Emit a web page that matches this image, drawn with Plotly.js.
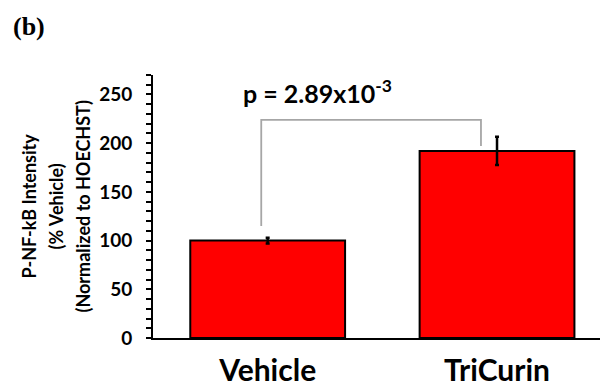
<!DOCTYPE html>
<html>
<head>
<meta charset="utf-8">
<script src="https://cdn.plot.ly/plotly-3.0.1.min.js"></script>
<style>html,body{margin:0;padding:0;background:#fff;}#chart{width:600px;height:389px;}</style>
</head>
<body>
<div id="chart"></div>
<script>
const categories = ["Vehicle", "TriCurin"];
const values = [100, 192];
const errors = [3, 14.5];
const pText = "p = 2.89x10<sup>-3</sup>";
const bracketTop = 224;
const yTickVals = [0, 50, 100, 150, 200, 250];
const yTitleLines = ["P-NF-kB Intensity", "(% Vehicle)", "(Normalized to HOECHST)"];

const FONT = "Lato, 'Open Sans', sans-serif";

const trace = {
  type: "bar",
  x: [0, 1],
  y: values,
  width: 0.675,
  marker: {color: "#ff0000", line: {color: "#000000", width: 2}},
  error_y: {type: "data", array: errors, visible: true, color: "#000000", thickness: 2.5, width: 2},
  hoverinfo: "skip"
};

const shapes = [
  {type: "path", xref: "x", yref: "y",
   path: `M ${0 - 0.028} ${values[0] + errors[0] + 12} L ${0 - 0.028} ${bracketTop} L ${1 - 0.07} ${bracketTop} L ${1 - 0.07} ${values[1] + 5}`,
   line: {color: "#a6a6a6", width: 1.8}}
];

const titleX = [-0.2796, -0.2192, -0.1588];
const annotations = yTitleLines.map((t, i) => ({
  xref: "paper", yref: "paper", x: titleX[i], y: 0.5, xanchor: "center", yanchor: "middle",
  text: t, textangle: -90, showarrow: false,
  font: {family: FONT, size: 18, color: "#000", weight: "bold"}
}));
annotations.push(
  {xref: "paper", yref: "paper", x: -0.318, y: 1.185, xanchor: "left", yanchor: "middle",
   text: "(b)", showarrow: false,
   font: {family: "'Liberation Serif', 'Times New Roman', serif", size: 26, color: "#000", weight: "bold"}},
  {xref: "x", yref: "y", x: 0.219, y: bracketTop + 10, xanchor: "center", yanchor: "bottom",
   text: pText, showarrow: false,
   font: {family: FONT, size: 25, color: "#000", weight: "bold"}}
);

const layout = {
  width: 600, height: 389,
  margin: {l: 153, r: 0, t: 75, b: 51, pad: 0},
  paper_bgcolor: "#ffffff", plot_bgcolor: "#ffffff",
  showlegend: false,
  font: {family: FONT, color: "#000000"},
  xaxis: {
    range: [-0.5, 1.449],
    tickvals: [0, 1], ticktext: categories,
    showline: true, linecolor: "#000000", linewidth: 2,
    ticks: "", showgrid: false, zeroline: false,
    tickfont: {family: FONT, size: 30, color: "#000", weight: "bold"},
    ticklabelstandoff: 5,
    automargin: false
  },
  yaxis: {
    range: [0, 270],
    tickvals: yTickVals,
    showline: true, linecolor: "#000000", linewidth: 2,
    ticks: "outside", ticklen: 5, tickwidth: 2, tickcolor: "#000",
    minor: {dtick: 10, tick0: 0, ticks: "outside", ticklen: 5, tickwidth: 2, tickcolor: "#000", showgrid: false},
    showgrid: false, zeroline: false,
    tickfont: {family: FONT, size: 19, color: "#000", weight: "bold"},
    ticklabelstandoff: 10,
    automargin: false
  },
  shapes: shapes,
  annotations: annotations
};

Plotly.newPlot("chart", [trace], layout, {staticPlot: true, displayModeBar: false});
</script>
</body>
</html>
